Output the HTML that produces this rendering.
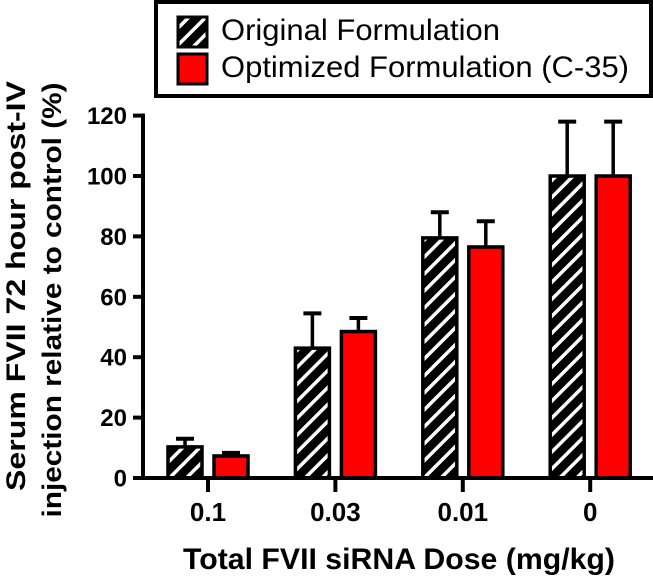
<!DOCTYPE html>
<html><head><meta charset="utf-8"><style>
body{margin:0;background:#fff}
svg text{font-family:"Liberation Sans",Arial,sans-serif;font-weight:bold}
</style></head><body>
<svg id="chart" width="653" height="575" viewBox="0 0 653 575" xmlns="http://www.w3.org/2000/svg">
<defs>
<pattern id="hatch" patternUnits="userSpaceOnUse" width="12" height="12" patternTransform="rotate(45)">
<rect width="12" height="12" fill="#000"/>
<rect x="0" y="0" width="3.5" height="12" fill="#fff"/>
</pattern>
</defs>
<g>
<rect x="156" y="2" width="495" height="94" fill="#fff" stroke="#000" stroke-width="4"/>
<rect x="178" y="17" width="29" height="30" fill="url(#hatch)" stroke="#000" stroke-width="3"/>
<text x="221" y="40" font-size="30" textLength="279" lengthAdjust="spacingAndGlyphs" style="font-weight:normal">Original Formulation</text>
<rect x="178" y="54" width="29" height="30" fill="#f00" stroke="#000" stroke-width="3"/>
<text x="221" y="77" font-size="30" textLength="408" lengthAdjust="spacingAndGlyphs" style="font-weight:normal">Optimized Formulation (C-35)</text>
</g>
<g id="plot"></g>
<text transform="translate(25,286) rotate(-90)" text-anchor="middle" font-size="27" textLength="410" lengthAdjust="spacingAndGlyphs">Serum FVII 72 hour post-IV</text>
<text transform="translate(61,300) rotate(-90)" text-anchor="middle" font-size="27" textLength="435" lengthAdjust="spacingAndGlyphs">injection relative to control (%)</text>
<text x="399" y="569" text-anchor="middle" font-size="30" textLength="432" lengthAdjust="spacingAndGlyphs">Total FVII siRNA Dose (mg/kg)</text>
</svg>
<script>
const categories=["0.1","0.03","0.01","0"];
const originalValues=[10.3,43,79.5,100];
const originalErrors=[13,54.5,88,118];
const optimizedValues=[7.3,48.5,76.5,100];
const optimizedErrors=[8.3,53,85,118];
const yTicks=[0,20,40,60,80,100,120];
const NS="http://www.w3.org/2000/svg";
const g=document.getElementById('plot');
const y=v=>478-v*3.02;
const xc=i=>208+i*127.4;
function mk(t,a){const e=document.createElementNS(NS,t);for(const k in a)e.setAttribute(k,a[k]);g.appendChild(e);return e;}
function bar(cx,v,err,fill,name){
  const l=mk('line',{x1:cx,x2:cx,y1:y(err),y2:y(v),stroke:'#000','stroke-width':3.5});
  
  
  const c=mk('line',{x1:cx-9,x2:cx+9,y1:y(err),y2:y(err),stroke:'#000','stroke-width':4});
  
  
  const r=mk('rect',{x:cx-17,y:y(v),width:34,height:478-y(v),fill:fill,stroke:'#000','stroke-width':3.5});
  
  
}
categories.forEach((c,i)=>{
  bar(xc(i)-23,originalValues[i],originalErrors[i],'url(#hatch)','bar-original-'+i);
  bar(xc(i)+23,optimizedValues[i],optimizedErrors[i],'#f00','bar-optimized-'+i);
  const t=mk('line',{x1:xc(i),x2:xc(i),y1:478,y2:492,stroke:'#000','stroke-width':4});
  
  
  const tx=mk('text',{x:xc(i),y:521,'text-anchor':'middle','font-size':26});
  tx.textContent=c;
  
  
});
yTicks.forEach(v=>{
  const t=mk('line',{x1:133,x2:144,y1:y(v),y2:y(v),stroke:'#000','stroke-width':4});
  
  
  const tx=mk('text',{x:127,y:y(v)+8.5,'text-anchor':'end','font-size':24});
  tx.textContent=v;
  
  
});
const ya=mk('line',{x1:143,x2:143,y1:y(120)-2,y2:480,stroke:'#000','stroke-width':4});


const xa=mk('line',{x1:141,x2:653,y1:478,y2:478,stroke:'#000','stroke-width':4});


</script>
</body></html>
